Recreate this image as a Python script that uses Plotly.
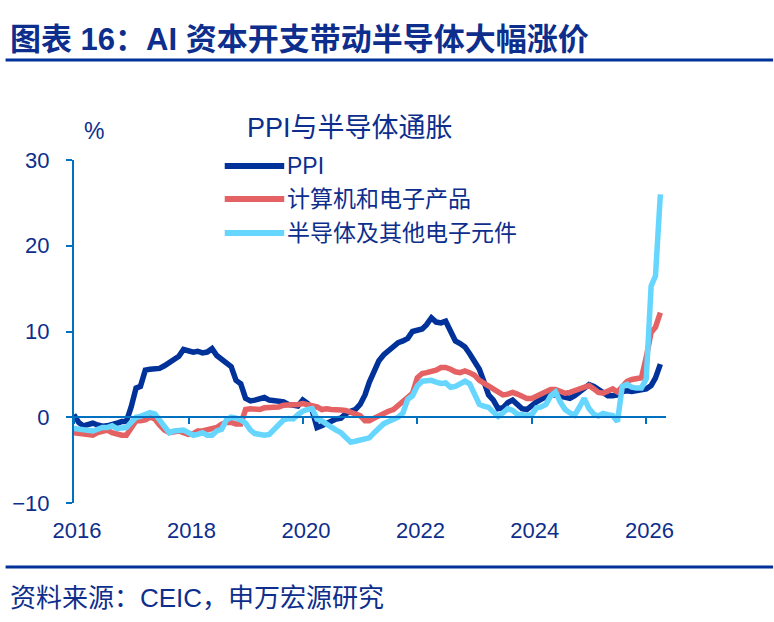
import pandas as pd
import plotly.graph_objects as go

# ---------------- data (monthly, YoY %) ----------------
months = pd.date_range("2015-12-01", periods=124, freq="MS") + pd.offsets.MonthEnd(0)

ppi = [
    0.3, -0.6, -1.0, -0.8, -0.7, -0.9, -1.05, -1.0, -0.9, -0.7, -0.5, -0.5,
    1.2, 3.4, 3.6, 5.5, 5.6, 5.6, 5.7, 6.0, 6.4, 6.7, 7.1, 7.9,
    7.7, 7.6, 7.7, 7.5, 7.6, 8.0, 7.2, 6.8, 6.4, 5.9, 4.3, 3.9,
    2.2, 1.9, 2.0, 2.2, 2.3, 2.0, 1.9, 1.8, 1.8, 1.5, 1.4, 1.3,
    2.0, 1.6, 0.8, -1.2, -1.0, -0.7, -0.4, -0.2, -0.1, 0.4, 0.7, 0.9,
    1.5, 2.6, 4.1, 5.6, 6.6, 7.3, 7.8, 8.2, 8.7, 8.9, 9.2, 10.0,
    10.2, 10.3, 10.8, 11.6, 11.1, 11.0, 11.2, 9.9, 8.9, 8.6, 8.2, 7.4,
    6.6, 5.6, 4.2, 2.6, 2.0, 1.0, 1.1, 1.7, 2.0, 1.6, 1.0, 0.9,
    1.4, 1.8, 2.1, 2.4, 2.7, 2.6, 2.5, 2.3, 2.2, 2.5, 3.0, 3.3,
    3.8, 3.6, 3.3, 2.8, 2.5, 2.5, 2.6, 3.0, 3.1, 3.0, 3.05, 3.1,
    3.3, 3.7, 4.6, 6.2,
]

computers = [
    -1.8, -1.9, -2.0, -2.0, -2.1, -1.8, -1.6, -1.5, -1.8, -2.0, -2.1, -2.1,
    -1.2, -0.4, -0.4, -0.3, 0.0, -0.2, -0.9, -1.5, -1.8, -1.7, -1.6, -1.8,
    -2.0, -1.9, -1.6, -1.6, -1.5, -1.4, -1.2, -0.8, -0.6, -0.6, -0.8, -0.8,
    0.9, 1.0, 1.0, 0.9, 1.1, 1.1, 1.1, 1.2, 1.4, 1.4, 1.4, 1.5,
    1.6, 1.5, 1.3, 1.2, 0.9, 1.0, 0.9, 0.8, 0.85, 0.8, 0.55, 0.35,
    0.2, -0.4, -0.4, -0.1, 0.2, 0.45, 0.7, 0.9, 1.4, 1.9, 2.4, 2.8,
    4.6, 5.1, 5.2, 5.3, 5.5, 5.8, 5.8, 5.6, 5.3, 5.2, 5.4, 5.2,
    4.9, 4.3, 4.0, 3.65, 3.2, 2.9, 2.6, 2.7, 2.9, 2.7, 2.5, 2.2,
    2.2, 2.5, 2.8, 3.1, 3.25, 3.25, 3.0, 2.8, 2.9, 3.1, 3.25, 3.4,
    3.7, 3.3, 2.9, 2.8, 3.1, 3.3, 2.95, 3.5, 4.2, 4.4, 4.5, 4.6,
    7.0, 9.9, 10.5, 12.2,
]

semis = [
    -1.3, -1.4, -1.4, -1.5, -1.6, -1.4, -1.2, -1.2, -1.0, -1.3, -1.3, -1.2,
    -0.6, 0.0, 0.1, 0.3, 0.55, 0.4, -0.4, -1.2, -1.8, -1.6, -1.5, -1.5,
    -1.8, -2.1, -2.0, -1.8, -2.1, -2.1, -1.6, -1.4, -0.3, 0.0, -0.1, -0.3,
    -0.7, -1.5, -1.9, -2.0, -2.1, -2.0, -1.5, -0.9, -0.3, -0.15, -0.2, 0.3,
    0.7, 0.9, 1.0, -0.2, -0.4, -0.8, -1.2, -1.5, -1.8, -2.3, -2.9, -2.8,
    -2.7, -2.6, -2.4, -1.8, -1.2, -0.75, -0.5, -0.2, 0.0, 0.5, 2.1, 2.5,
    3.65, 4.2, 4.3, 4.3, 4.1, 3.95, 4.0, 3.5, 3.6, 3.9, 4.2, 3.9,
    2.8, 1.5, 1.3, 1.15, 0.6, 0.1, 0.5, 1.0, 0.8, 0.35, 0.3, 0.2,
    0.3, 1.1, 1.2, 1.5, 2.5, 2.95, 1.8, 0.9, 0.5, 0.25, 1.2, 2.2,
    1.0, 0.35, 0.15, 0.45, 0.3, 0.2, -0.5, 3.6, 3.85, 3.5, 3.4, 3.4,
    4.5, 15.3, 16.5, 26.0,
]

series_names = ["PPI", "计算机和电子产品", "半导体及其他电子元件"]
series_colors = ["#00329A", "#E46264", "#66D6FF"]
year_ticks = ["2016", "2018", "2020", "2022", "2024", "2026"]
y_ticks = [-10, 0, 10, 20, 30]

title_text = "图表 16：AI 资本开支带动半导体大幅涨价"
chart_title = "PPI与半导体通胀"
source_text = "资料来源：CEIC，申万宏源研究"
unit_text = "%"

TXT = "#0D2E8C"
AX = "#0070C0"
FONT = "Liberation Sans, Arial, Noto Sans CJK SC, sans-serif"

# ---------------- figure ----------------
W, H = 774, 622
L, R, T, B = 69, 108, 160, 119
pw, ph = W - L - R, H - T - B


def px(x):
    return (x - L) / pw


def py(y):
    return (H - B - y) / ph


fig = go.Figure()
for name, vals, col in zip(series_names, [ppi, computers, semis], series_colors):
    fig.add_trace(go.Scatter(
        x=months, y=vals, name=name, mode="lines",
        line=dict(color=col, width=5.5, shape="linear"),
        showlegend=False, hoverinfo="skip",
    ))
# invisible trace to carry the bottom label axis
fig.add_trace(go.Scatter(x=months, y=ppi, xaxis="x2", mode="none",
                         showlegend=False, hoverinfo="skip"))

tick_dates = [f"{y}-01-01" for y in year_ticks]
label_dates = [f"{y}-01-20" for y in year_ticks]

fig.update_layout(
    width=W, height=H,
    margin=dict(l=L, r=R, t=T, b=B),
    paper_bgcolor="white", plot_bgcolor="white",
    font=dict(family=FONT, color=TXT),
    showlegend=False,
    xaxis=dict(
        type="date", range=["2016-01-01", "2026-05-06"],
        anchor="free", position=0.25,
        showline=True, linecolor=AX, linewidth=2,
        ticks="outside", ticklen=6, tickwidth=2, tickcolor=AX,
        tickvals=tick_dates, showticklabels=False,
        showgrid=False, zeroline=False,
    ),
    xaxis2=dict(
        type="date", overlaying="x", matches="x", anchor="y", side="bottom",
        showline=False, ticks="", showgrid=False, zeroline=False,
        tickvals=label_dates, ticktext=year_ticks,
        tickfont=dict(size=22, color=TXT, family=FONT),
        ticklabelstandoff=12,
    ),
    yaxis=dict(
        range=[-10, 30], tickvals=y_ticks,
        showline=True, linecolor=AX, linewidth=2,
        ticks="outside", ticklen=6, tickwidth=2, tickcolor=AX,
        showgrid=False, zeroline=False,
        tickfont=dict(size=22, color=TXT, family=FONT),
        ticklabelstandoff=12,
    ),
)

annotations = [
    dict(text=f"<b>{title_text}</b>", x=px(2), y=py(40), xref="paper", yref="paper",
         xanchor="left", yanchor="middle", showarrow=False,
         font=dict(size=31, color=TXT, family=FONT)),
    dict(text=source_text, x=px(2), y=py(598), xref="paper", yref="paper",
         xanchor="left", yanchor="middle", showarrow=False,
         font=dict(size=26, color=TXT, family=FONT)),
    dict(text=chart_title, x=px(347), y=py(128), xref="paper", yref="paper",
         xanchor="center", yanchor="middle", showarrow=False,
         font=dict(size=27, color=TXT, family=FONT)),
    dict(text=unit_text, x=px(89), y=py(131), xref="paper", yref="paper",
         xanchor="center", yanchor="middle", showarrow=False,
         font=dict(size=23, color=TXT, family=FONT)),
]
shapes = [
    dict(type="line", xref="paper", yref="paper", x0=px(0), x1=px(W), y0=py(60), y1=py(60),
         line=dict(color="#00329A", width=3)),
    dict(type="line", xref="paper", yref="paper", x0=px(0), x1=px(W), y0=py(567), y1=py(567),
         line=dict(color="#00329A", width=3)),
]
leg_y = [166, 199, 233]
for name, col, ly in zip(series_names, series_colors, leg_y):
    shapes.append(dict(type="line", xref="paper", yref="paper",
                       x0=px(221), x1=px(281), y0=py(ly), y1=py(ly),
                       line=dict(color=col, width=6)))
    annotations.append(dict(text=name, x=px(282), y=py(ly), xref="paper", yref="paper",
                            xanchor="left", yanchor="middle", showarrow=False,
                            font=dict(size=23, color=TXT, family=FONT)))

fig.update_layout(annotations=annotations, shapes=shapes)
fig.write_html("out.html", config={"displayModeBar": False})
